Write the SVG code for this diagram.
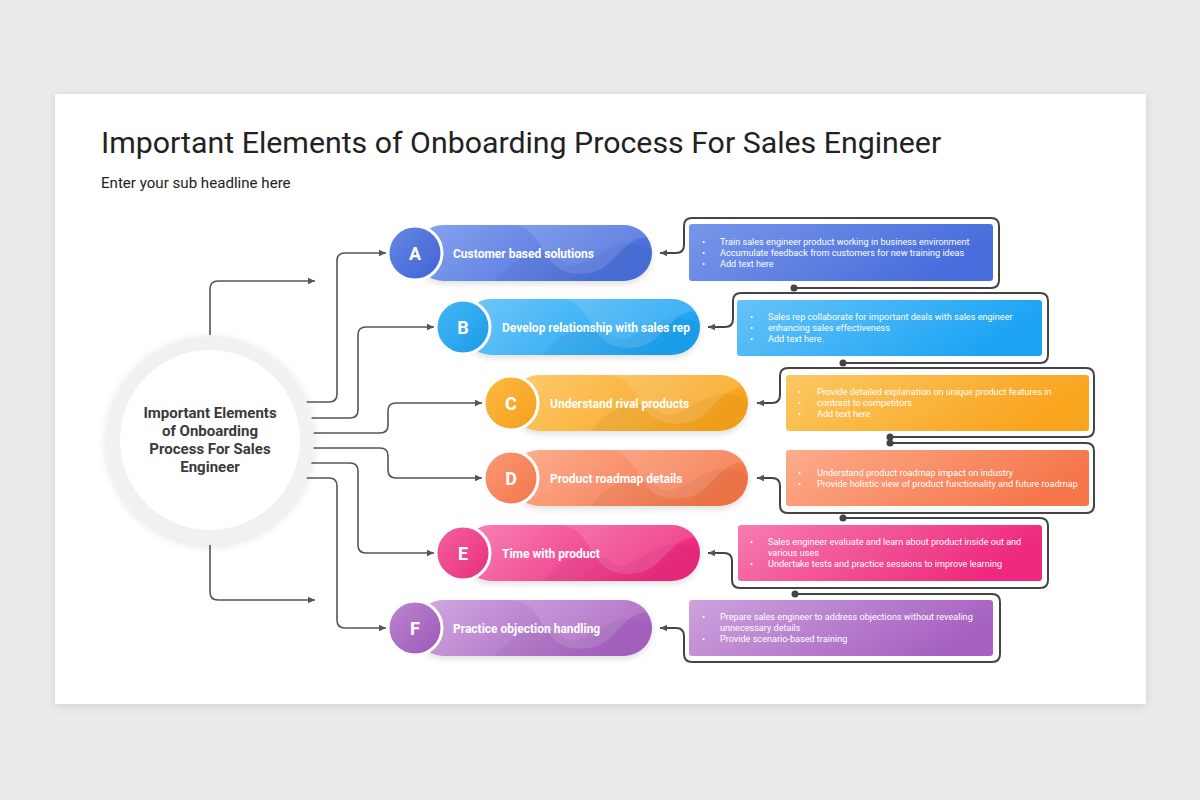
<svg xmlns="http://www.w3.org/2000/svg" width="1200" height="800" viewBox="0 0 1200 800">
<defs>
<style>
.title{font-family:Roboto,"Liberation Sans",sans-serif;font-size:30.3px;fill:#222}
.sub{font-family:Roboto,"Liberation Sans",sans-serif;font-size:15.1px;fill:#222}
.ctext{font-family:Roboto,"Liberation Sans",sans-serif;font-size:15px;font-weight:700;fill:#3a3a3a;text-anchor:middle}
.letter{font-family:Roboto,"Liberation Sans",sans-serif;font-size:18px;font-weight:700;fill:#fff;text-anchor:middle}
.lbl{font-family:Roboto,"Liberation Sans",sans-serif;font-size:12px;font-weight:700;fill:#fff}
.bt{font-family:Roboto,"Liberation Sans",sans-serif;font-size:9.1px;fill:#fff}
.conn{fill:none;stroke:#555;stroke-width:1.6}
.outl{fill:none;stroke:#444;stroke-width:2}
.wave{fill:#fff;opacity:0.13}
.wave2{fill:#000;opacity:0.04}
</style>
<filter id="sh" x="-10%" y="-10%" width="120%" height="130%"><feDropShadow dx="0" dy="2" stdDeviation="4" flood-color="#000" flood-opacity="0.12"/></filter>
<filter id="psh" x="-10%" y="-30%" width="120%" height="170%"><feDropShadow dx="0" dy="3" stdDeviation="3" flood-color="#000" flood-opacity="0.12"/></filter>
<marker id="ar" markerUnits="userSpaceOnUse" markerWidth="8" markerHeight="8" refX="7" refY="4" orient="auto"><path d="M0,0.8 L7,4 L0,7.2 z" fill="#555"/></marker>
<clipPath id="pc"><rect x="0" y="-28" width="237" height="56" rx="28"/></clipPath>
<linearGradient id="pA" x1="0" y1="0" x2="1" y2="0.3"><stop offset="0" stop-color="#88a5ef"/><stop offset="1" stop-color="#4a6fdc"/></linearGradient>
<linearGradient id="cA" x1="0" y1="0" x2="1" y2="1"><stop offset="0" stop-color="#6588e4"/><stop offset="1" stop-color="#3f62d4"/></linearGradient>
<linearGradient id="bA" x1="0" y1="0" x2="1" y2="0.3"><stop offset="0" stop-color="#7897ea"/><stop offset="1" stop-color="#486ddc"/></linearGradient>
<linearGradient id="pB" x1="0" y1="0" x2="1" y2="0.3"><stop offset="0" stop-color="#72c8f9"/><stop offset="1" stop-color="#1ea4f3"/></linearGradient>
<linearGradient id="cB" x1="0" y1="0" x2="1" y2="1"><stop offset="0" stop-color="#45b8f7"/><stop offset="1" stop-color="#1a9ae6"/></linearGradient>
<linearGradient id="bB" x1="0" y1="0" x2="1" y2="0.3"><stop offset="0" stop-color="#66c3f8"/><stop offset="1" stop-color="#1ca3f4"/></linearGradient>
<linearGradient id="pC" x1="0" y1="0" x2="1" y2="0.3"><stop offset="0" stop-color="#fdcc70"/><stop offset="1" stop-color="#f8a51e"/></linearGradient>
<linearGradient id="cC" x1="0" y1="0" x2="1" y2="1"><stop offset="0" stop-color="#fcbb45"/><stop offset="1" stop-color="#f59f18"/></linearGradient>
<linearGradient id="bC" x1="0" y1="0" x2="1" y2="0.3"><stop offset="0" stop-color="#fcc864"/><stop offset="1" stop-color="#f9a41d"/></linearGradient>
<linearGradient id="pD" x1="0" y1="0" x2="1" y2="0.3"><stop offset="0" stop-color="#fdb092"/><stop offset="1" stop-color="#f5774a"/></linearGradient>
<linearGradient id="cD" x1="0" y1="0" x2="1" y2="1"><stop offset="0" stop-color="#fa9a76"/><stop offset="1" stop-color="#f1764a"/></linearGradient>
<linearGradient id="bD" x1="0" y1="0" x2="1" y2="0.3"><stop offset="0" stop-color="#fdac8d"/><stop offset="1" stop-color="#f6764a"/></linearGradient>
<linearGradient id="pE" x1="0" y1="0" x2="1" y2="0.3"><stop offset="0" stop-color="#f884b5"/><stop offset="1" stop-color="#ee2a7e"/></linearGradient>
<linearGradient id="cE" x1="0" y1="0" x2="1" y2="1"><stop offset="0" stop-color="#f4639f"/><stop offset="1" stop-color="#e82c7c"/></linearGradient>
<linearGradient id="bE" x1="0" y1="0" x2="1" y2="0.3"><stop offset="0" stop-color="#f67db1"/><stop offset="1" stop-color="#ee287c"/></linearGradient>
<linearGradient id="pF" x1="0" y1="0" x2="1" y2="0.3"><stop offset="0" stop-color="#d2abe0"/><stop offset="1" stop-color="#a862c2"/></linearGradient>
<linearGradient id="cF" x1="0" y1="0" x2="1" y2="1"><stop offset="0" stop-color="#bc86d1"/><stop offset="1" stop-color="#9c58b7"/></linearGradient>
<linearGradient id="bF" x1="0" y1="0" x2="1" y2="0.3"><stop offset="0" stop-color="#cda2dd"/><stop offset="1" stop-color="#a762c1"/></linearGradient>
<g id="waves">
<path class="wave" d="M0,-28 H95 C135,-28 120,28 175,20 C205,15 210,-28 245,-12 V-30 H0 Z"/>
<path class="wave2" d="M80,28 C100,0 130,-5 150,10 C170,24 200,-30 240,0 V30 H80 Z"/>
</g>
</defs>

<rect x="0" y="0" width="1200" height="800" fill="#ebebec"/>
<rect x="55" y="94" width="1091" height="610" fill="#fff" filter="url(#sh)"/>

<g id="header">
<text class="title" x="101" y="153">Important Elements of Onboarding Process For Sales Engineer</text>
<text class="sub" x="101" y="188">Enter your sub headline here</text>
</g>

<g id="connectors">
<path class="conn" d="M210,335 V289 Q210,281 218,281 H315" marker-end="url(#ar)"/>
<path class="conn" d="M210,545 V592 Q210,600 218,600 H315" marker-end="url(#ar)"/>
<path class="conn" d="M300,402 H329 Q337,402 337,394 V261 Q337,253 345,253 H386" marker-end="url(#ar)"/>
<path class="conn" d="M300,418 H350 Q358,418 358,410 V335 Q358,327 366,327 H434" marker-end="url(#ar)"/>
<path class="conn" d="M300,433 H380 Q388,433 388,425 V411 Q388,403 396,403 H482" marker-end="url(#ar)"/>
<path class="conn" d="M300,448 H380 Q388,448 388,456 V470 Q388,478 396,478 H482" marker-end="url(#ar)"/>
<path class="conn" d="M300,463 H350 Q358,463 358,471 V545 Q358,553 366,553 H434" marker-end="url(#ar)"/>
<path class="conn" d="M300,478 H329 Q337,478 337,486 V620 Q337,628 345,628 H386" marker-end="url(#ar)"/>
<path class="outl" d="M794,288 H991 Q999,288 999,280 V226 Q999,218 991,218 H692 Q684,218 684,226 V245 Q684,253 676,253 H660" marker-end="url(#ar)"/>
<path class="outl" d="M843,363 H1040 Q1048,363 1048,355 V301 Q1048,293 1040,293 H741 Q733,293 733,301 V319 Q733,327 725,327 H708" marker-end="url(#ar)"/>
<path class="outl" d="M890,437 H1086 Q1094,437 1094,429 V376 Q1094,368 1086,368 H788 Q780,368 780,376 V395 Q780,403 772,403 H757" marker-end="url(#ar)"/>
<path class="outl" d="M890,443 H1086 Q1094,443 1094,451 V505 Q1094,513 1086,513 H788 Q780,513 780,505 V486 Q780,478 772,478 H757" marker-end="url(#ar)"/>
<path class="outl" d="M843,518 H1040 Q1048,518 1048,526 V580 Q1048,588 1040,588 H740 Q732,588 732,580 V561 Q732,553 724,553 H708" marker-end="url(#ar)"/>
<path class="outl" d="M795,594 H992 Q1000,594 1000,602 V654 Q1000,662 992,662 H692 Q684,662 684,654 V636 Q684,628 676,628 H660" marker-end="url(#ar)"/>
<g fill="#444">
<circle cx="794" cy="288" r="3.5"/><circle cx="843" cy="363" r="3.5"/><circle cx="890" cy="437" r="3.5"/>
<circle cx="890" cy="443" r="3.5"/><circle cx="843" cy="518" r="3.5"/><circle cx="795" cy="594" r="3.5"/>
</g>
</g>

<g id="center">
<circle cx="210" cy="440" r="104" fill="#f1f1f1" filter="url(#sh)"/>
<circle cx="210" cy="440" r="90" fill="#fff"/>
<text class="ctext" x="210" y="418">Important Elements</text>
<text class="ctext" x="210" y="436">of Onboarding</text>
<text class="ctext" x="210" y="454">Process For Sales</text>
<text class="ctext" x="210" y="472">Engineer</text>
</g>

<g id="node-a" transform="translate(415,253)">
<rect x="0" y="-28" width="237" height="56" rx="28" fill="url(#pA)" filter="url(#psh)"/>
<g clip-path="url(#pc)"><use href="#waves"/></g>
<circle r="27" fill="url(#cA)" stroke="#fff" stroke-width="3"/>
<text class="letter" y="6.5">A</text>
<text class="lbl" x="38" y="4.5">Customer based solutions</text>
</g>
<g id="node-b" transform="translate(463,327)">
<rect x="0" y="-28" width="237" height="56" rx="28" fill="url(#pB)" filter="url(#psh)"/>
<g clip-path="url(#pc)"><use href="#waves"/></g>
<circle r="27" fill="url(#cB)" stroke="#fff" stroke-width="3"/>
<text class="letter" y="6.5">B</text>
<text class="lbl" x="39" y="4.5">Develop relationship with sales rep</text>
</g>
<g id="node-c" transform="translate(511,403)">
<rect x="0" y="-28" width="237" height="56" rx="28" fill="url(#pC)" filter="url(#psh)"/>
<g clip-path="url(#pc)"><use href="#waves"/></g>
<circle r="27" fill="url(#cC)" stroke="#fff" stroke-width="3"/>
<text class="letter" y="6.5">C</text>
<text class="lbl" x="39" y="4.5">Understand rival products</text>
</g>
<g id="node-d" transform="translate(511,478)">
<rect x="0" y="-28" width="237" height="56" rx="28" fill="url(#pD)" filter="url(#psh)"/>
<g clip-path="url(#pc)"><use href="#waves"/></g>
<circle r="27" fill="url(#cD)" stroke="#fff" stroke-width="3"/>
<text class="letter" y="6.5">D</text>
<text class="lbl" x="39" y="4.5">Product roadmap details</text>
</g>
<g id="node-e" transform="translate(463,553)">
<rect x="0" y="-28" width="237" height="56" rx="28" fill="url(#pE)" filter="url(#psh)"/>
<g clip-path="url(#pc)"><use href="#waves"/></g>
<circle r="27" fill="url(#cE)" stroke="#fff" stroke-width="3"/>
<text class="letter" y="6.5">E</text>
<text class="lbl" x="39" y="4.5">Time with product</text>
</g>
<g id="node-f" transform="translate(415,628)">
<rect x="0" y="-28" width="237" height="56" rx="28" fill="url(#pF)" filter="url(#psh)"/>
<g clip-path="url(#pc)"><use href="#waves"/></g>
<circle r="27" fill="url(#cF)" stroke="#fff" stroke-width="3"/>
<text class="letter" y="6.5">F</text>
<text class="lbl" x="38" y="4.5">Practice objection handling</text>
</g>

<g id="box-a">
<rect x="689" y="224" width="304" height="57" rx="3" fill="url(#bA)"/>
<text class="bt" x="702" y="245">•</text><text class="bt" x="720" y="245">Train sales engineer product working in business environment</text>
<text class="bt" x="702" y="256">•</text><text class="bt" x="720" y="256">Accumulate feedback from customers for new training ideas</text>
<text class="bt" x="702" y="267">•</text><text class="bt" x="720" y="267">Add text here</text>
</g>
<g id="box-b">
<rect x="737" y="300" width="305" height="56" rx="3" fill="url(#bB)"/>
<text class="bt" x="750" y="320">•</text><text class="bt" x="768" y="320">Sales rep collaborate for important deals with sales engineer</text>
<text class="bt" x="750" y="331">•</text><text class="bt" x="768" y="331">enhancing sales effectiveness</text>
<text class="bt" x="750" y="342">•</text><text class="bt" x="768" y="342">Add text here.</text>
</g>
<g id="box-c">
<rect x="786" y="375" width="303" height="56" rx="3" fill="url(#bC)"/>
<text class="bt" x="798" y="395">•</text><text class="bt" x="817" y="395">Provide detailed explanation on unique product features in</text>
<text class="bt" x="798" y="406">•</text><text class="bt" x="817" y="406">contrast to competitors</text>
<text class="bt" x="798" y="417">•</text><text class="bt" x="817" y="417">Add text here</text>
</g>
<g id="box-d">
<rect x="786" y="450" width="303" height="56" rx="3" fill="url(#bD)"/>
<text class="bt" x="798" y="476">•</text><text class="bt" x="817" y="476">Understand product roadmap impact on industry</text>
<text class="bt" x="798" y="487">•</text><text class="bt" x="817" y="487">Provide holistic view of product functionality and future roadmap</text>
</g>
<g id="box-e">
<rect x="738" y="525" width="304" height="56" rx="3" fill="url(#bE)"/>
<text class="bt" x="750" y="545">•</text><text class="bt" x="768" y="545">Sales engineer evaluate and learn about product inside out and</text>
<text class="bt" x="768" y="556">various uses</text>
<text class="bt" x="750" y="567">•</text><text class="bt" x="768" y="567">Undertake tests and practice sessions to improve learning</text>
</g>
<g id="box-f">
<rect x="689" y="600" width="304" height="56" rx="3" fill="url(#bF)"/>
<text class="bt" x="702" y="620">•</text><text class="bt" x="720" y="620">Prepare sales engineer to address objections without revealing</text>
<text class="bt" x="720" y="631">unnecessary details</text>
<text class="bt" x="702" y="642">•</text><text class="bt" x="720" y="642">Provide scenario-based training</text>
</g>
</svg>
